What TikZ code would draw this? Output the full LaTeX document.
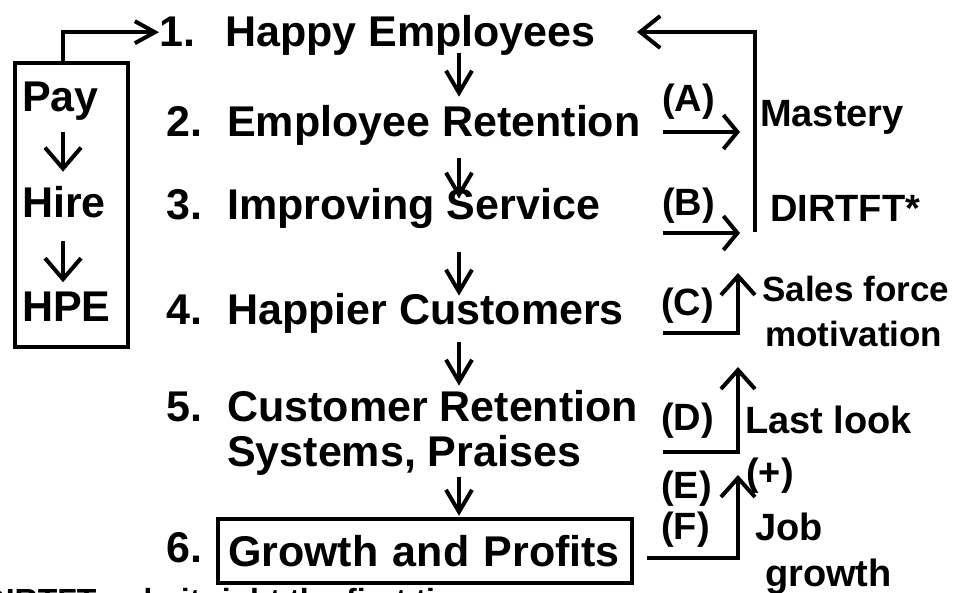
\documentclass[tikz,border=0pt]{standalone}
\usepackage{fontspec}
\setmainfont{Liberation Sans}
\usetikzlibrary{arrows.meta,positioning}
\tikzset{
  steptext/.style={font=\fontsize{43}{47}\selectfont\bfseries, inner sep=0pt, anchor=base west},
  sidetext/.style={font=\fontsize{38}{42}\selectfont\bfseries, inner sep=0pt, anchor=base west},
  boxline/.style={draw, line width=4pt},
  downarrow/.style={line width=4pt, -{Straight Barb[length=22pt,width=26pt]}},
  boxarrow/.style={line width=4pt, -{Straight Barb[length=21pt,width=36pt]}},
  payarrow/.style={line width=4pt, -{Straight Barb[length=20pt,width=22pt]}},
  sidearrow/.style={line width=4pt, -{Straight Barb[length=14pt,width=34pt]}},
  uparrow/.style={line width=4pt, -{Straight Barb[length=19pt,width=34pt]}},
  backarrow/.style={line width=4pt, -{Straight Barb[length=20pt,width=32pt]}}
}

\begin{document}
\begin{tikzpicture}[x=1pt,y=-1pt]
    \useasboundingbox (0,0) rectangle (964,593);
    \coordinate (lx) at (63,0);
    \coordinate (mx) at (459,0);

    % left box
    \node[boxline, minimum width=113pt, minimum height=284pt, inner sep=0pt] (lbox) at (71.5,205) {};
    \node[steptext] (pay) at (22,112) {Pay};
    \node[steptext] (hire) at (22,218) {Hire};
    \node[steptext] (hpe) at (22,322) {HPE};
    \draw[boxarrow, shorten <=11pt, shorten >=15pt] (pay.south -| lx) -- (hire.north -| lx);
    \draw[boxarrow, shorten <=22pt, shorten >=10pt] (hire.south -| lx) -- (hpe.north -| lx);

    % the six steps
    \node[steptext] (n1) at (159,47) {1.};
    \node[steptext] (t1) at (225,47) {Happy Employees};
    \node[steptext] (n2) at (166,137) {2.};
    \node[steptext] (t2) at (227,137) {Employee Retention};
    \node[steptext] (n3) at (166,220) {3.};
    \node[steptext] (t3) at (227,220) {Improving Service};
    \node[steptext] (n4) at (166,325) {4.};
    \node[steptext] (t4) at (227,325) {Happier Customers};
    \node[steptext] (n5) at (166,422) {5.};
    \node[steptext] (t5) at (227,422) {Customer Retention};
    \node[steptext] (t5b) at (227,467) {Systems, Praises};
    \node[steptext] (n6) at (166,562) {6.};
    \node[boxline, font=\fontsize{43}{47}\selectfont\bfseries, text width=394pt, inner xsep=10pt,
          minimum height=64.5pt, align=left] (gbox) at (425,551) {Growth and Profits};

    \draw[payarrow] (lbox.north -| lx) |- (n1.west);
    \draw[downarrow, shorten <=-3pt, shorten >=9pt] (t1.south -| mx) -- (t2.north -| mx);
    \draw[downarrow, shorten <=12pt, shorten >=-10pt] (t2.south -| mx) -- (t3.north -| mx);
    \draw[downarrow, shorten <=23pt, shorten >=-2pt] (t3.south -| mx) -- (t4.north -| mx);
    \draw[downarrow, shorten <=8pt, shorten >=5pt] (t4.south -| mx) -- (t5.north -| mx);
    \draw[downarrow, shorten <=1pt, shorten >=1pt] (t5b.south -| mx) -- (gbox.north -| mx);

    % right side
    \node[sidetext] (labA) at (662,112) {(A)};
    \node[sidetext] (labB) at (662,216) {(B)};
    \node[sidetext] (labC) at (661,316) {(C)};
    \node[sidetext] (labD) at (661,431) {(D)};
    \node[sidetext] (labE) at (661,498) {(E)};
    \node[sidetext] (labF) at (661,539) {(F)};
    \node[sidetext] (plus) at (746,485) {(+)};
    \node[sidetext] (mastery) at (760,127) {Mastery};
    \node[sidetext] (dirtft) at (770,222) {DIRTFT*};
    \node[sidetext, font=\fontsize{35}{39}\selectfont\bfseries] (sales) at (762,302) {Sales force};
    \node[sidetext, font=\fontsize{35}{39}\selectfont\bfseries] (motiv) at (765,347) {motivation};
    \node[sidetext] (last) at (745,433) {Last look};
    \node[sidetext] (job) at (755,540) {Job};
    \node[sidetext] (growth) at (765,586) {growth};

    \coordinate (fbfoot) at (755,232);
    \coordinate (fbtip) at (637,32);
    \draw[backarrow] (fbfoot) |- (fbtip);

    \coordinate (A0) at (663,132); \coordinate (A1) at (740,132);
    \coordinate (B0) at (663,233); \coordinate (B1) at (740,233);
    \draw[sidearrow] (A0) -- (A1);
    \draw[sidearrow] (B0) -- (B1);

    \coordinate (C0) at (663,333); \coordinate (C1) at (738,273);
    \coordinate (D0) at (663,452); \coordinate (D1) at (738,367);
    \coordinate (F0) at (647,558); \coordinate (F1) at (738,475);
    \draw[uparrow] (C0) -| (C1);
    \draw[uparrow] (D0) -| (D1);
    \draw[uparrow] (F0) -| (F1);

    % footnote, cut by the lower edge
    \node[font=\fontsize{32}{36}\selectfont\bfseries, inner sep=0pt, anchor=base west] (note) at (-30,611)
        {*DIRTFT = do it right the first time};
\end{tikzpicture}
\end{document}
